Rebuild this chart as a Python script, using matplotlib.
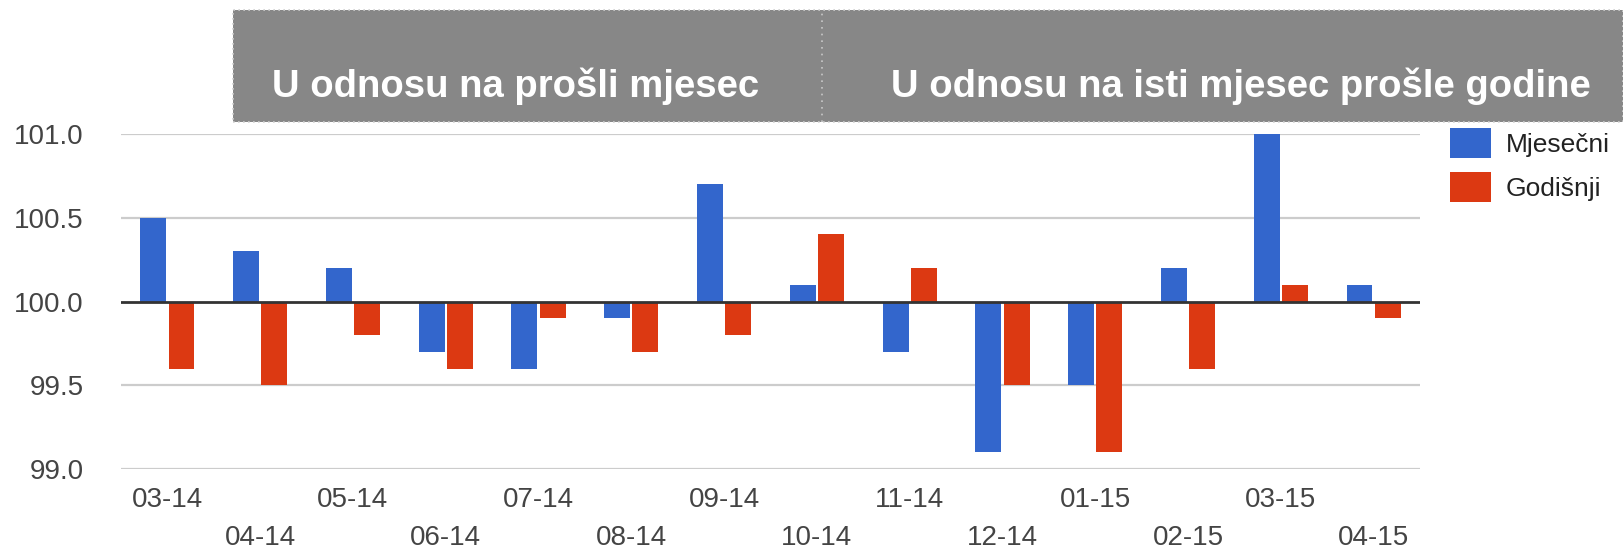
import matplotlib
matplotlib.use("Agg")
import matplotlib.pyplot as plt
from matplotlib.patches import Rectangle
import numpy as np

months = ["03-14", "04-14", "05-14", "06-14", "07-14", "08-14", "09-14",
          "10-14", "11-14", "12-14", "01-15", "02-15", "03-15", "04-15"]
mjesecni = [100.5, 100.3, 100.2, 99.7, 99.6, 99.9, 100.7,
            100.1, 99.7, 99.1, 99.5, 100.2, 101.0, 100.1]
godisnji = [99.6, 99.5, 99.8, 99.6, 99.9, 99.7, 99.8,
            100.4, 100.2, 99.5, 99.1, 99.6, 100.1, 99.9]
series_names = ["Mjesečni", "Godišnji"]
yticks = [99.0, 99.5, 100.0, 100.5, 101.0]
banner_texts = ["U odnosu na prošli mjesec", "U odnosu na isti mjesec prošle godine"]
baseline = 100.0

W, H = 1623, 550
fig = plt.figure(figsize=(W / 100, H / 100), dpi=100)
fig.patch.set_facecolor("white")

ax = fig.add_axes([121 / W, 1 - 469 / H, (1420 - 121) / W, (469 - 134) / H])
ax.set_facecolor("white")

x = np.arange(len(months))
bw = 0.28
gap = 0.012
blue = "#3366cc"
red = "#dc3912"
b1 = ax.bar(x - bw / 2 - gap, np.array(mjesecni) - baseline, bw, bottom=baseline,
            color=blue, label=series_names[0], zorder=2)
b2 = ax.bar(x + bw / 2 + gap, np.array(godisnji) - baseline, bw, bottom=baseline,
            color=red, label=series_names[1], zorder=2)

ax.set_xlim(-0.5, len(months) - 0.5)
ax.set_ylim(99.0, 101.0)
ax.set_yticks(yticks)
ax.set_yticklabels([f"{v:.1f}" for v in yticks])
for v in yticks:
    if v == baseline:
        continue
    ax.axhline(v, color="#cccccc", lw=1.6, zorder=1)
ax.axhline(baseline, color="#333333", lw=2.0, zorder=3)

for s in ax.spines.values():
    s.set_visible(False)

ax.set_xticks(x)
ax.set_xticklabels(months)
ax.tick_params(axis="y", length=0, labelsize=20, labelcolor="#444444")
ax.tick_params(axis="x", length=0, labelsize=20, labelcolor="#444444")
for t in ax.yaxis.get_major_ticks():
    t.set_pad(27)
for i, t in enumerate(ax.xaxis.get_major_ticks()):
    t.set_pad(13 if i % 2 == 0 else 40)
for lab in ax.get_xticklabels() + ax.get_yticklabels():
    lab.set_fontfamily(["Liberation Sans", "DejaVu Sans"])

leg = ax.legend(handles=[b1, b2], loc="upper left",
                bbox_to_anchor=(1450 / W, 1 - 128 / H), bbox_transform=fig.transFigure,
                frameon=False, handlelength=1.55, handleheight=1.35,
                handletextpad=0.55, labelspacing=0.55, borderaxespad=0, borderpad=0,
                prop={"family": ["Liberation Sans", "DejaVu Sans"], "size": 19})
for t in leg.get_texts():
    t.set_color("#222222")

# banner
fig.patches.append(Rectangle((233 / W, 1 - 122 / H), (W - 233) / W, (122 - 10) / H,
                             transform=fig.transFigure, facecolor="#878787",
                             edgecolor="#cfcfcf", lw=1.2, linestyle=(0, (1, 2)),
                             zorder=0))
fig.lines.append(plt.Line2D([822 / W, 822 / W], [1 - 122 / H, 1 - 10 / H],
                            transform=fig.transFigure, color="#c8c8c8", lw=1.2,
                            linestyle=(0, (1, 3))))
bfam = ["Liberation Sans", "DejaVu Sans"]
fig.text(516 / W, 1 - 86 / H, banner_texts[0], ha="center", va="center",
         color="white", fontsize=27.5, fontweight="bold", family=bfam)
fig.text(1241 / W, 1 - 86 / H, banner_texts[1], ha="center", va="center",
         color="white", fontsize=27.5, fontweight="bold", family=bfam)

fig.savefig("out.png", dpi=100)
